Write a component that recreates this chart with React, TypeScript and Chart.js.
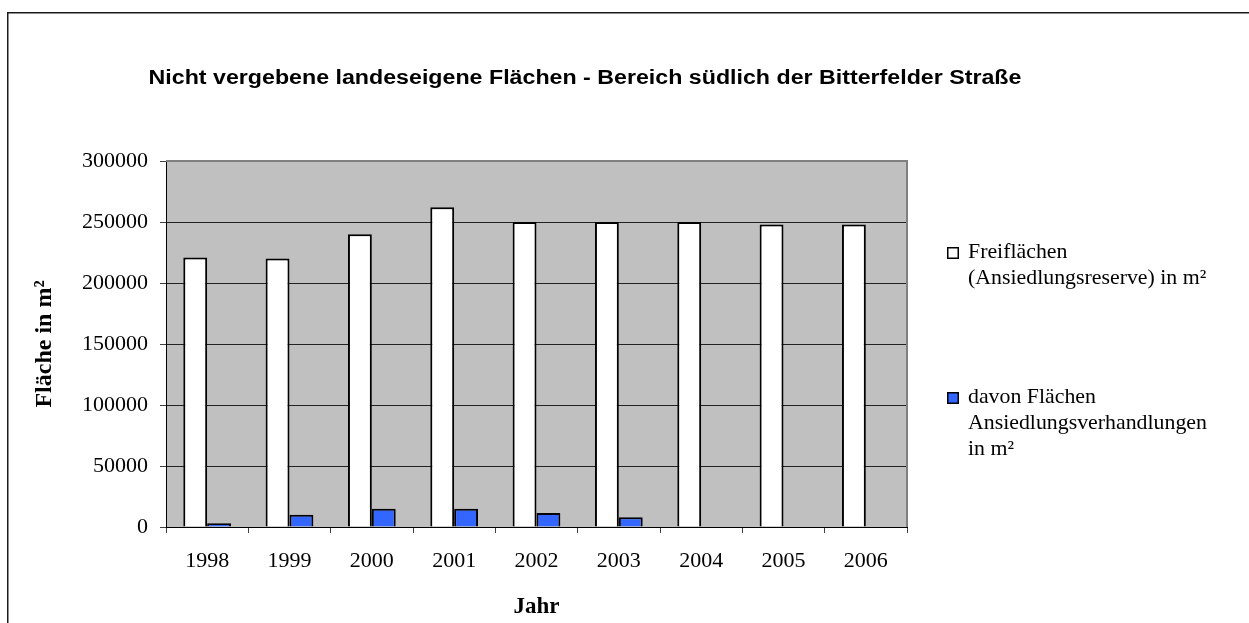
import React, { useEffect, useRef } from "react";
import { Chart, registerables } from "chart.js";

Chart.register(...registerables);

const TITLE = "Nicht vergebene landeseigene Flächen - Bereich südlich der Bitterfelder Straße";
const YEARS = ["1998", "1999", "2000", "2001", "2002", "2003", "2004", "2005", "2006"];
const FREIFLAECHEN = [221000, 220000, 240000, 262000, 250000, 250000, 250000, 248000, 248000];
const VERHANDLUNGEN = [3000, 10000, 15000, 15000, 11500, 8000, null, null, null];
const LEGEND_FREI = ["Freiflächen", "(Ansiedlungsreserve) in m²"];
const LEGEND_VERH = ["davon Flächen", "Ansiedlungsverhandlungen", "in m²"];
const Y_TITLE = "Fläche in m²";
const X_TITLE = "Jahr";
const Y_MIN = 0;
const Y_MAX = 300000;
const Y_STEP = 50000;

const SERIF = '"Liberation Serif", "Times New Roman", serif';
const SANS = '"Liberation Sans", Arial, sans-serif';

const decorPlugin = {
  id: "decor",
  beforeDraw(chart: any) {
    const { ctx, chartArea: a } = chart;
    ctx.save();
    ctx.fillStyle = "#C0C0C0";
    ctx.fillRect(a.left, a.top, a.right - a.left, a.bottom - a.top);
    ctx.restore();
  },
  afterDraw(chart: any) {
    const { ctx, chartArea: a } = chart;
    ctx.save();
    // plot area top/right border
    ctx.strokeStyle = "#808080";
    ctx.lineWidth = 2;
    ctx.beginPath();
    ctx.moveTo(a.left, a.top);
    ctx.lineTo(a.right, a.top);
    ctx.lineTo(a.right, a.bottom);
    ctx.stroke();
    // outer frame
    ctx.strokeStyle = "#1a1a1a";
    ctx.lineWidth = 1.5;
    ctx.beginPath();
    ctx.moveTo(7.75, chart.height);
    ctx.lineTo(7.75, 12.75);
    ctx.lineTo(chart.width, 12.75);
    ctx.stroke();
    ctx.restore();

    // title
    ctx.save();
    ctx.fillStyle = "#000";
    ctx.font = "bold 20px " + SANS;
    ctx.textAlign = "center";
    ctx.textBaseline = "alphabetic";
    ctx.translate(585, 84);
    ctx.scale(1.16, 1);
    ctx.fillText(TITLE, 0, 0);
    ctx.restore();

    // legend
    const items = [
      { lines: LEGEND_FREI, fill: chart.data.datasets[0].backgroundColor, top: 247 },
      { lines: LEGEND_VERH, fill: chart.data.datasets[1].backgroundColor, top: 392 },
    ];
    ctx.save();
    for (const it of items) {
      ctx.fillStyle = it.fill;
      ctx.fillRect(947, it.top, 12, 12);
      ctx.strokeStyle = "#000";
      ctx.lineWidth = 1.5;
      ctx.strokeRect(947.75, it.top + 0.75, 10.5, 10.5);
      ctx.fillStyle = "#000";
      ctx.font = "21px " + SERIF;
      ctx.textAlign = "left";
      ctx.textBaseline = "alphabetic";
      it.lines.forEach((ln: string, i: number) => {
        ctx.save();
        ctx.translate(968, it.top + 11 + i * 26);
        ctx.scale(1.04, 1);
        ctx.fillText(ln, 0, 0);
        ctx.restore();
      });
    }
    ctx.restore();
  },
};

export default function App() {
  const ref = useRef<HTMLCanvasElement>(null);
  useEffect(() => {
    if (!ref.current) return;
    const chart = new Chart(ref.current, {
      type: "bar",
      data: {
        labels: YEARS,
        datasets: [
          {
            label: LEGEND_FREI.join(" "),
            data: FREIFLAECHEN,
            backgroundColor: "#FFFFFF",
            borderColor: "#000000",
            borderWidth: 2,
            barPercentage: 1,
            categoryPercentage: 0.58,
          },
          {
            label: LEGEND_VERH.join(" "),
            data: VERHANDLUNGEN as any,
            backgroundColor: "#3366FF",
            borderColor: "#000000",
            borderWidth: 2,
            barPercentage: 1,
            categoryPercentage: 0.58,
          },
        ],
      },
      options: {
        animation: false,
        responsive: false,
        layout: { padding: { top: 161, right: 342, left: 0, bottom: 0 } },
        plugins: {
          legend: { display: false },
          title: { display: false },
          tooltip: { enabled: false },
        },
        scales: {
          x: {
            offset: true,
            grid: {
              offset: true,
              drawOnChartArea: false,
              drawTicks: true,
              tickLength: 6,
              tickColor: "#404040",
              color: "#404040",
            },
            border: { display: true, color: "#000", width: 1 },
            ticks: {
              font: { family: SERIF, size: 22 },
              color: "#000",
              padding: 15,
              maxRotation: 0,
              autoSkip: false,
            },
            title: {
              display: true,
              text: X_TITLE,
              font: { family: SERIF, size: 23, weight: "bold" },
              color: "#000",
              padding: { top: 0, bottom: 2 },
            },
            afterFit(scale: any) {
              scale.height = 96;
            },
          },
          y: {
            min: Y_MIN,
            max: Y_MAX,
            ticks: {
              stepSize: Y_STEP,
              font: { family: SERIF, size: 22 },
              color: "#000",
              padding: 12,
              callback: (v: any) => String(v),
            },
            grid: { color: "#222", lineWidth: 1, tickLength: 6, tickColor: "#404040" },
            border: { color: "#000", width: 1 },
            title: {
              display: true,
              text: Y_TITLE,
              font: { family: SERIF, size: 24, weight: "bold" },
              color: "#000",
              padding: { top: 30, bottom: 0 },
            },
            afterFit(scale: any) {
              scale.width = 166;
            },
          },
        },
      } as any,
      plugins: [decorPlugin],
    });
    return () => chart.destroy();
  }, []);
  return (
    <div style={{ position: "fixed", left: 0, top: 0, width: 1249, height: 623, background: "#fff" }}>
      <canvas ref={ref} width={1249} height={623} style={{ display: "block" }} />
    </div>
  );
}
